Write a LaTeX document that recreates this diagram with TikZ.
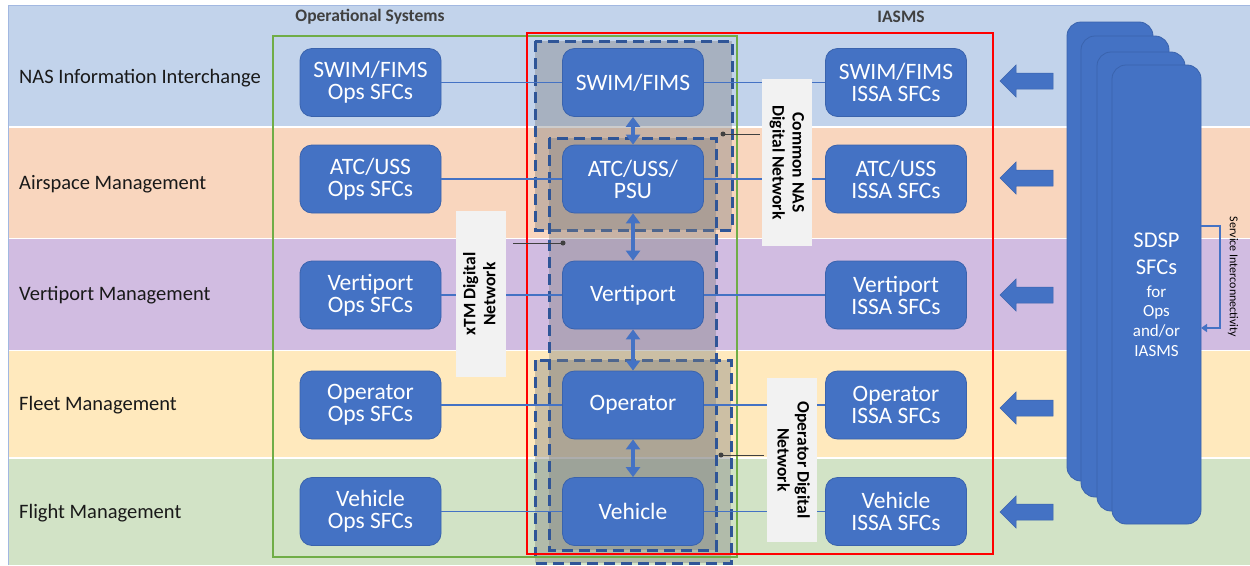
\documentclass[tikz,border=0pt]{standalone}
\usepackage{fontspec}
\setmainfont{Carlito}
\usetikzlibrary{arrows.meta}
\definecolor{bandblue}{HTML}{C2D3EB}
\definecolor{bandorange}{HTML}{F9D6BE}
\definecolor{bandpurple}{HTML}{D1BCE1}
\definecolor{bandyellow}{HTML}{FFE9BD}
\definecolor{bandgreen}{HTML}{D2E3C6}
\definecolor{boxblue}{HTML}{4472C4}
\definecolor{boxedge}{HTML}{3A63AD}
\definecolor{dashblue}{HTML}{2F5597}
\definecolor{framegreen}{HTML}{70AD47}
\definecolor{framered}{HTML}{FF0000}
\definecolor{labelgrey}{HTML}{F2F2F2}
\definecolor{headgrey}{HTML}{404040}
\definecolor{leadgrey}{HTML}{404040}
\tikzset{
  sfc/.style={rectangle, rounded corners=12pt, fill=boxblue, draw=boxedge, line width=0.8pt,
    text=white, minimum width=141pt, minimum height=68pt, inner sep=0pt, align=center,
    font=\fontsize{23.5}{22}\selectfont},
  bandlabel/.style={anchor=west, inner sep=0pt, text=black!90, font=\fontsize{20.5}{24}\selectfont},
  header/.style={inner sep=0pt, text=headgrey, font=\bfseries\fontsize{17.5}{20}\selectfont},
  link/.style={draw=boxblue, line width=1.3pt},
  dbl/.style={draw=boxblue, line width=4pt, {Triangle[width=14pt,length=10pt]}-{Triangle[width=14pt,length=10pt]}},
  netregion/.style={fill=gray, fill opacity=0.4, draw=dashblue, draw opacity=1, line width=3pt, dash pattern=on 11pt off 6pt},
  netlabel/.style={fill=labelgrey, inner sep=0pt, minimum width=50pt, align=center, text=black,
    font=\bfseries\fontsize{17.5}{22}\selectfont},
  leader/.style={draw=leadgrey, line width=0.9pt},
  leaddot/.style={circle, fill=leadgrey, inner sep=0pt, minimum size=5pt},
  blockarrow/.style={fill=boxblue, draw=boxedge, line width=0.5pt},
  card/.style={fill=boxblue, draw=boxedge, line width=0.8pt, rounded corners=14pt},
}
\begin{document}
\begin{tikzpicture}[x=1pt,y=-1pt]
\useasboundingbox (0,0) rectangle (1250,565);
\fill[white] (0,0) rectangle (1250,565);
% bands
\fill[bandblue] (8,5) rectangle (1250,126);
\fill[bandorange] (8,127.5) rectangle (1250,237.5);
\fill[bandpurple] (8,239) rectangle (1250,349.5);
\fill[bandyellow] (8,351) rectangle (1250,457);
\fill[bandgreen] (8,458.5) rectangle (1250,565);
\draw[draw=boxblue!50, line width=0.8pt] (8,565) -- (8,5) -- (1250,5);
% band labels
\node[bandlabel] (b1) at (19,78.6) {NAS Information Interchange};
\node[bandlabel] (b2) at (19,183.8) {Airspace Management};
\node[bandlabel] (b3) at (19,295.5) {Vertiport Management};
\node[bandlabel] (b4) at (19,405) {Fleet Management};
\node[bandlabel] (b5) at (19,513.5) {Flight Management};
% headers
\node[header] (h1) at (370,17) {Operational Systems};
\node[header] (h2) at (901,17) {IASMS};
% network regions
\path[netregion] (535,360) rectangle (731,563);
\path[netregion] (535,41) rectangle (732,230);
\path[netregion] (549,138) rectangle (716,550);
% frames
\draw[framegreen, line width=2.5pt] (273,36) rectangle (737,557);
\draw[framered, line width=2.5pt] (527,33) rectangle (993,554);
% left boxes
\node[sfc] (L1) at (370.5,82.5) {SWIM/FIMS\\Ops SFCs};
\node[sfc] (L2) at (370.5,179) {ATC/USS\\Ops SFCs};
\node[sfc] (L3) at (370.5,295) {Vertiport\\Ops SFCs};
\node[sfc] (L4) at (370.5,405) {Operator\\Ops SFCs};
\node[sfc] (L5) at (370.5,511.5) {Vehicle\\Ops SFCs};
% middle boxes
\node[sfc] (M1) at (633,82.5) {SWIM/FIMS};
\node[sfc] (M2) at (633,179) {ATC/USS/\\PSU};
\node[sfc] (M3) at (633,295) {Vertiport};
\node[sfc] (M4) at (633,405) {Operator};
\node[sfc] (M5) at (633,511.5) {Vehicle};
% right boxes
\node[sfc] (R1) at (896,82.5) {SWIM/FIMS\\ISSA SFCs};
\node[sfc] (R2) at (896,179) {ATC/USS\\ISSA SFCs};
\node[sfc] (R3) at (896,295) {Vertiport\\ISSA SFCs};
\node[sfc] (R4) at (896,405) {Operator\\ISSA SFCs};
\node[sfc] (R5) at (896,511.5) {Vehicle\\ISSA SFCs};
% horizontal links
\foreach \i in {1,...,5} {
  \draw[link] (L\i) -- (M\i);
  \draw[link] (M\i) -- (R\i);
}
% vertical double arrows
\draw[dbl] (M1) -- (M2);
\draw[dbl] (M2) -- (M3);
\draw[dbl] (M3) -- (M4);
\draw[dbl] (M4) -- (M5);
% network labels
\node[netlabel, minimum height=167pt] (nasl) at (787,162.5) {\rotatebox{-90}{\begin{tabular}{@{}c@{}}Common NAS\\[-2pt]Digital Network\end{tabular}}};
\node[netlabel, minimum height=166pt] (xtml) at (481,294) {\rotatebox{90}{\begin{tabular}{@{}c@{}}xTM Digital\\[-2pt]Network\end{tabular}}};
\node[netlabel, minimum height=164pt] (opl) at (792,460) {\rotatebox{-90}{\begin{tabular}{@{}c@{}}Operator Digital\\[-2pt]Network\end{tabular}}};
% leaders
\node[leaddot] (d1) at (723,134) {};
\draw[leader] (d1.center) -- (760,134);
\node[leaddot] (d2) at (563,243) {};
\draw[leader] (513,243) -- (d2.center);
\node[leaddot] (d3) at (721,455) {};
\draw[leader] (d3.center) -- (764,455);
% right block arrows
\foreach \c in {81,178,295,408,512} {
  \path[blockarrow] (1000,\c) -- (1016,\c-16) -- (1016,\c-8) -- (1053,\c-8) -- (1053,\c+8) -- (1016,\c+8) -- (1016,\c+16) -- cycle;
}
% stacked cards
\path[card] (1067,22) rectangle (1153,481);
\path[card] (1081,36) rectangle (1169,497);
\path[card] (1097,52) rectangle (1185,511);
\path[card] (1112,65) rectangle (1201,524);
\node[inner sep=0pt, text=white, font=\fontsize{17}{20}\selectfont] (sdsp) at (1156.5,297.5)
  {\begin{tabular}{@{}c@{}}
   \fontsize{22.5}{22}\selectfont SDSP\\[6pt]
   \fontsize{22.5}{22}\selectfont SFCs\\[3pt]
   for\\[-1pt]
   Ops\\
   and/or\\
   IASMS
   \end{tabular}};
% service interconnectivity
\coordinate (sout) at (1201,226);
\coordinate (sin) at (1201,328);
\draw[draw=boxblue, line width=2pt, -{Triangle[width=8pt,length=6pt]}] (sout) -- (1220,226) |- (sin);
\node[inner sep=0pt, rotate=-90, font=\fontsize{12}{14}\selectfont, text=black] (svc) at (1233,277) {Service Interconnectivity};
\end{tikzpicture}
\end{document}
